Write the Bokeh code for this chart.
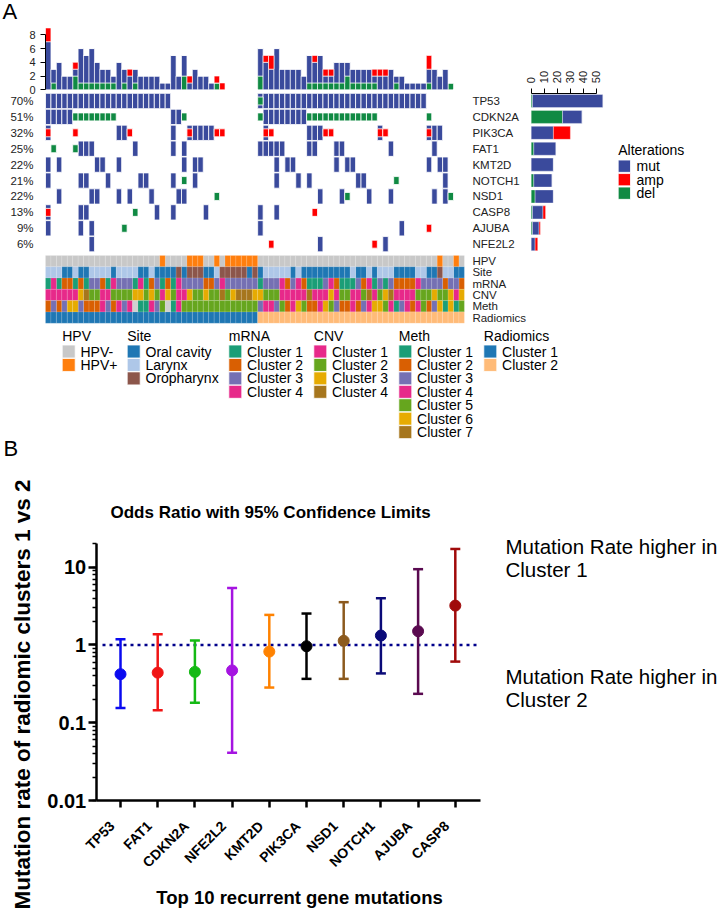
import math
from bokeh.plotting import figure
from bokeh.models import (Range1d, LinearAxis, FixedTicker, ColumnDataSource,
                          CustomJSTickFormatter, LinearScale)
from bokeh.layouts import column
from bokeh.embed import file_html
from bokeh.resources import INLINE
from bokeh.core.properties import value

FONT = "Liberation Sans"

# ---------------- oncoprint data ----------------
GENES = ["TP53", "CDKN2A", "PIK3CA", "FAT1", "KMT2D", "NOTCH1", "NSD1", "CASP8", "AJUBA", "NFE2L2"]
PCT_LABELS = ["70%", "51%", "32%", "25%", "22%", "21%", "22%", "13%", "9%", "6%"]
N1, N2 = 39, 38   # samples in radiomic cluster 1 / cluster 2

# per-sample alteration codes: . none, m mut, a amp, d del, M mut+amp, D mut+del
TP53_ALT   = "mmmmm mmmmm mmmmm mmmmm mmm.. ..... ..... .... | Dmmmm mmmmm mmmmm mmmmm mmmmm mmmmm m.... ..."
CDKN2A_ALT = "mmmmm ddddd ddd.. ..... ...mm d.... ..... .... | dmmmm mmmmd ddddd ddddd dd... ..... .d... ..."
PIK3CA_ALT = "M.... a.... ...mm a.... ...m. .Mmmm maa.. .... | .Ma.. ....m mmaa. ..... ..Ma. ..... .Mmm. ..."
FAT1_ALT   = ".d... dmmm. ..... .m... ...m. m.... ..... .... | mmmmm ....m m...m m.... ....m ..... ..m.. ..."
KMT2D_ALT  = "m.m.. ....m m..m. ..... ..... m.mm. ..... .... | ...m. mm... ....m .mm.. ..... ..... .m.mm ..."
NOTCH1_ALT = "m.... .mm.. .m... ..mm. ...m. d.m.. ..... .... | ...m. ..m.m ..... ...mm ..... d.... ....m ..."
NSD1_ALT   = "..m.. ...mm ...m. m...m ....m m.... .d... .... | ..... ..... .m... md... m...m ..... ..m.m d.."
CASP8_ALT  = "M.... .mm.. ..... .d... m..m. ....m ..... .... | m..m. ..... a.... ..... ..... ..... ..... ..."
AJUBA_ALT  = "m.... .m.m. ....d ..... ..... ..... ..... .... | m.... ..... ..... ..... ..... .m... .a... ..."
NFE2L2_ALT = "..... ...m. ..... ..... ..... ..... ..... .... | ..a.. ..... .m... ..... .a.m. ..... ..... ..."
GENE_ALTS = [TP53_ALT, CDKN2A_ALT, PIK3CA_ALT, FAT1_ALT, KMT2D_ALT,
             NOTCH1_ALT, NSD1_ALT, CASP8_ALT, AJUBA_ALT, NFE2L2_ALT]

ALT_LABELS = ["mut", "amp", "del"]
MUT_C, AMP_C, DEL_C = "#3A4A9C", "#FF0000", "#108A43"
ALT_COLORS = [MUT_C, AMP_C, DEL_C]
COUNT_TICKS = [0, 2, 4, 6, 8]
RB_TICKS = [0, 10, 20, 30, 40, 50]

# ---------------- annotation tracks ----------------
TRACK_NAMES = ["HPV", "Site", "mRNA", "CNV", "Meth", "Radiomics"]
HPV_TRACK   = "11111 11111 11111 11111 12111 12221 12122 2222 | 11111 11111 11111 11111 11111 11111 11121 121"
SITE_TRACK  = "22211 21122 22122 22112 11113 13331 12333 3313 | 12222 21211 11111 11211 21222 11112 21132 211"
MRNA_TRACK  = "14122 12133 21433 31412 31214 33332 23433 3333 | 13334 23421 11342 11132 41313 22224 33332 332"
CNV_TRACK   = "11111 13422 11222 23323 21321 13223 22423 4443 | 32221 11114 11131 22112 41234 11112 22322 313"
METH_TRACK  = "23236 63222 43243 40114 35014 55555 55555 5555 | 34435 24652 24653 22423 46654 13424 52361 615"
RADIO_TRACK = "11111 11111 11111 11111 11111 11111 11111 1111 | 22222 22222 22222 22222 22222 22222 22222 222"

HPV_LEVELS = ["HPV-", "HPV+"]
SITE_LEVELS = ["Oral cavity", "Larynx", "Oropharynx"]
MRNA_LEVELS = ["Cluster 1", "Cluster 2", "Cluster 3", "Cluster 4"]
CNV_LEVELS = ["Cluster 1", "Cluster 2", "Cluster 3", "Cluster 4"]
METH_LEVELS = ["Cluster 1", "Cluster 2", "Cluster 3", "Cluster 4", "Cluster 5", "Cluster 6", "Cluster 7"]
RADIO_LEVELS = ["Cluster 1", "Cluster 2"]

HPV_COLORS = ["#C8C8C8", "#FF7F0E"]
SITE_COLORS = ["#1F77B4", "#AEC7E8", "#8C564B"]
MRNA_COLORS = ["#1B9E77", "#D95F02", "#7570B3", "#E7298A"]
CNV_COLORS = ["#E7298A", "#66A61E", "#E6AB02", "#A6761D"]
METH_COLORS = ["#1B9E77", "#D95F02", "#7570B3", "#E7298A", "#66A61E", "#E6AB02", "#A6761D"]
RADIO_COLORS = ["#1F77B4", "#FFBB78"]
NA_COLOR = "#D0D0D0"

# ---------------- odds ratio data ----------------
OR_GENES = ["TP53", "FAT1", "CDKN2A", "NFE2L2", "KMT2D", "PIK3CA", "NSD1", "NOTCH1", "AJUBA", "CASP8"]
OR_VALUES = [0.42, 0.44, 0.45, 0.47, 0.82, 0.96, 1.13, 1.32, 1.50, 3.20]
OR_LOWER = [0.155, 0.145, 0.18, 0.041, 0.283, 0.366, 0.366, 0.43, 0.235, 0.61]
OR_UPPER = [1.18, 1.37, 1.14, 5.4, 2.43, 2.53, 3.54, 3.98, 9.4, 17.1]
OR_COLORS = ["#0A0AF0", "#F01414", "#14B914", "#A514E1", "#FF8200",
             "#000000", "#8C5A1E", "#0A0A78", "#5A0A50", "#A00A0A"]
REF_LEVEL = 1.0
CHART_TITLE = "Odds Ratio with 95% Confidence Limits"
Y_TITLE = "Mutation rate of radiomic clusters 1 vs 2"
X_TITLE = "Top 10 recurrent gene mutations"
RIGHT_TEXTS = ["Mutation Rate higher in", "Cluster 1", "Mutation Rate higher in", "Cluster 2"]


def expand(track, fill):
    first, second = track.split("|")
    first = first.replace(" ", "")
    second = second.replace(" ", "")
    return (first + fill * N1)[:N1] + (second + fill * N2)[:N2]


NS = N1 + N2
alts = [expand(s, ".") for s in GENE_ALTS]

mut_x, mut_y, amp_x, amp_y, del_x, del_y = [], [], [], [], [], []
col_m, col_a, col_d = [0] * NS, [0] * NS, [0] * NS
row_m, row_a, row_d = [], [], []
for r, s in enumerate(alts):
    m = a = d = 0
    for i, c in enumerate(s):
        if c in "mMD":
            mut_x.append(i + 0.5); mut_y.append(r); col_m[i] += 1; m += 1
        if c in "aM":
            amp_x.append(i + 0.5); amp_y.append(r); col_a[i] += 1; a += 1
        if c in "dD":
            del_x.append(i + 0.5); del_y.append(r); col_d[i] += 1; d += 1
    row_m.append(m); row_a.append(a); row_d.append(d)

# ---------------- layout constants (page pixels) ----------------
PAGE_W, PAGE_H = 720, 919
TOP_H = 464
PX_L, PX_R, PY_T, PY_B = 0, PAGE_W, 0, TOP_H
X0, CW = 45.0, 5.44            # first sample column, column width
ROW_Y0, ROW_H = 100.5, 15.91   # gene row centre, spacing
CNT_Y0, CNT_U = 89.3, 6.875    # top bar baseline, px per alteration
ANN_Y0, ANN_H = 260.64, 11.28  # annotation track centre, height
RB_X0, RB_U = 530.7, 1.306     # right bar baseline, px per alteration

p = figure(width=PAGE_W, height=TOP_H,
           x_range=Range1d((PX_L - X0) / CW, (PX_R - X0) / CW),
           y_range=Range1d((PY_B - ROW_Y0) / ROW_H, (PY_T - ROW_Y0) / ROW_H),
           x_axis_type=None, y_axis_type=None, output_backend="svg",
           toolbar_location=None, min_border=0)
p.outline_line_color = None
p.extra_y_ranges = {
    "cnt": Range1d((CNT_Y0 - PY_B) / CNT_U, (CNT_Y0 - PY_T) / CNT_U),
    "ann": Range1d((PY_B - ANN_Y0) / ANN_H, (PY_T - ANN_Y0) / ANN_H),
    "py": Range1d(PY_B, PY_T),
}
p.extra_x_ranges = {
    "rb": Range1d((PX_L - RB_X0) / RB_U, (PX_R - RB_X0) / RB_U),
    "px": Range1d(PX_L, PX_R),
}

# oncoprint cells
p.rect(x=mut_x, y=mut_y, width=1, height=0.96, fill_color=MUT_C,
       line_color="white", line_width=1, line_alpha=0.8)
p.rect(x=amp_x, y=amp_y, width=1, height=0.5, fill_color=AMP_C,
       line_color="white", line_width=1, line_alpha=0.8)
p.rect(x=del_x, y=del_y, width=1, height=0.5, fill_color=DEL_C,
       line_color="white", line_width=1, line_alpha=0.8)

# top stacked bars
top_src = ColumnDataSource(dict(x=[i + 0.5 for i in range(NS)], d=col_d, m=col_m, a=col_a))
p.vbar_stack(["d", "m", "a"], x="x", width=1, source=top_src,
             fill_color=[DEL_C, MUT_C, AMP_C], line_color="white", line_width=0.8,
             line_alpha=0.8, y_range_name="cnt")

# right stacked bars
rb_src = ColumnDataSource(dict(y=list(range(len(GENES))), d=row_d, m=row_m, a=row_a))
p.hbar_stack(["d", "m", "a"], y="y", height=0.82, source=rb_src,
             fill_color=[DEL_C, MUT_C, AMP_C], line_color="white", line_width=0.6,
             line_alpha=0.6, x_range_name="rb")

# annotation tracks
tracks = [(HPV_TRACK, HPV_COLORS, HPV_LEVELS, "HPV"),
          (SITE_TRACK, SITE_COLORS, SITE_LEVELS, "Site"),
          (MRNA_TRACK, MRNA_COLORS, MRNA_LEVELS, "mRNA"),
          (CNV_TRACK, CNV_COLORS, CNV_LEVELS, "CNV"),
          (METH_TRACK, METH_COLORS, METH_LEVELS, "Meth"),
          (RADIO_TRACK, RADIO_COLORS, RADIO_LEVELS, "Radiomics")]
for t_i, (trk, cols, levels, name) in enumerate(tracks):
    codes = expand(trk, "0")
    for k, colr in enumerate(cols):
        xs = [i + 0.5 for i, c in enumerate(codes) if c == str(k + 1)]
        p.rect(x=xs, y=[t_i] * len(xs), width=1, height=1, fill_color=colr,
               line_color="white", line_alpha=0.25, line_width=0.5, y_range_name="ann")
    xs = [i + 0.5 for i, c in enumerate(codes) if c == "0"]
    if xs:
        p.rect(x=xs, y=[t_i] * len(xs), width=1, height=1, fill_color=NA_COLOR,
               line_color=None, y_range_name="ann")

AX_TXT = "#222222"


def style_axis(ax, size="11px"):
    ax.major_label_text_font = FONT
    ax.major_label_text_font_size = size
    ax.major_label_text_color = AX_TXT
    ax.minor_tick_line_color = None


ax_cnt = LinearAxis(y_range_name="cnt", fixed_location=0, bounds=(0, 8),
                    ticker=FixedTicker(ticks=COUNT_TICKS), major_tick_out=5, major_tick_in=0,
                    major_label_standoff=5, axis_line_color="black", major_tick_line_color="black")
style_axis(ax_cnt)
p.add_layout(ax_cnt, "left")

ax_pct = LinearAxis(fixed_location=0, ticker=FixedTicker(ticks=list(range(len(GENES)))),
                    major_label_overrides={i: s for i, s in enumerate(PCT_LABELS)},
                    axis_line_color=None, major_tick_line_color=None, major_tick_out=0,
                    major_tick_in=0, major_label_standoff=12)
style_axis(ax_pct, "11.5px")
p.add_layout(ax_pct, "left")

ax_gene = LinearAxis(fixed_location=NS, ticker=FixedTicker(ticks=list(range(len(GENES)))),
                     major_label_overrides={i: s for i, s in enumerate(GENES)},
                     axis_line_color=None, major_tick_line_color=None, major_tick_out=0,
                     major_tick_in=0, major_label_standoff=8)
style_axis(ax_gene, "11.5px")
p.add_layout(ax_gene, "right")

ax_ann = LinearAxis(y_range_name="ann", fixed_location=NS,
                    ticker=FixedTicker(ticks=list(range(len(TRACK_NAMES)))),
                    major_label_overrides={i: s for i, s in enumerate(TRACK_NAMES)},
                    axis_line_color=None, major_tick_line_color=None, major_tick_out=0,
                    major_tick_in=0, major_label_standoff=8)
style_axis(ax_ann, "11.5px")
p.add_layout(ax_ann, "right")

ax_rb = LinearAxis(x_range_name="rb", fixed_location=(92.7 - ROW_Y0) / ROW_H, bounds=(0, 50),
                   ticker=FixedTicker(ticks=RB_TICKS), major_label_orientation=math.pi / 2,
                   major_tick_out=5, major_tick_in=0, major_label_standoff=5,
                   axis_line_color="black", major_tick_line_color="black")
style_axis(ax_rb, "11px")
p.add_layout(ax_rb, "above")


def draw_key(title, labels, colors, sq_left, title_y, first_y, step, sq):
    n = len(labels)
    ys = [first_y + step * k for k in range(n)]
    p.text(x=[sq_left], y=[title_y], text=[title], x_range_name="px", y_range_name="py",
           text_font=value(FONT), text_font_size="14px", text_baseline="middle",
           text_color="black")
    p.rect(x=[sq_left + sq / 2] * n, y=ys, width=sq, height=sq, fill_color=colors,
           line_color="white", line_width=0.8, x_range_name="px", y_range_name="py")
    p.text(x=[sq_left + 18.3] * n, y=ys, text=labels, x_range_name="px", y_range_name="py",
           text_font=value(FONT), text_font_size="14px", text_baseline="middle",
           text_color="black")


draw_key("Alterations", ALT_LABELS, ALT_COLORS, 617.7, 149.0, 165.7, 13.5, 12.3)
key_x = [61.7, 126.7, 228.3, 313.3, 398.3, 483.3]
for (trk, cols, levels, name), kx in zip(tracks, key_x):
    draw_key(name, levels, cols, kx, 335.0, 351.0, 13.44, 13.0)

p.text(x=[2.0, 3.0], y=[10.5, 448.0], text=["A", "B"], x_range_name="px", y_range_name="py",
       text_font=value(FONT), text_font_size="22px", text_baseline="middle",
       text_color="black")

# ---------------- odds ratio chart ----------------
BOT_H = PAGE_H - TOP_H
GX0, GDX = 120.0, 37.2                       # first gene centre, spacing (page px)
F_L, F_R, F_T, F_B = 95.7, 480.0, 543.0, 800.0   # plot frame edges (page px)
DEC = 77.8                                   # px per decade
LABEL_SHIFT = 0.23                           # gene labels sit left of their ticks


def xg(px):
    return (px - GX0) / GDX


def ylog(py):
    return 10 ** (-2 - (py - F_B) / DEC)


b = figure(width=PAGE_W, height=BOT_H, x_range=Range1d(xg(0), xg(PAGE_W)),
           y_range=Range1d(ylog(PAGE_H), ylog(TOP_H)), y_axis_type="log",
           output_backend="svg", toolbar_location=None, min_border=0)
b.xgrid.visible = False
b.ygrid.visible = False
b.outline_line_color = None
b.extra_x_ranges = {"px": Range1d(0, PAGE_W)}
b.extra_y_ranges = {"py": Range1d(PAGE_H, TOP_H)}
b.extra_x_scales = {"px": LinearScale()}
b.extra_y_scales = {"py": LinearScale()}

xa = b.xaxis[0]
ya = b.yaxis[0]
xa.fixed_location = 0.01
xa.bounds = (xg(F_L), xg(F_R))
xa.ticker = FixedTicker(ticks=list(range(len(OR_GENES))))
xa.major_label_text_color = None
xa.minor_tick_line_color = None
ya.fixed_location = xg(F_L)
ya.bounds = (0.01, ylog(F_T))

for ax in (xa, ya):
    ax.axis_line_width = 2.5
    ax.axis_line_color = "black"
    ax.major_tick_line_width = 2.5
    ax.major_tick_line_color = "black"
    ax.major_tick_in = 0
    ax.major_label_text_font = FONT
    ax.major_label_text_font_style = "bold"
xa.major_tick_out = 7
ya.major_tick_out = 8
ya.minor_tick_out = 4
ya.minor_tick_in = 0
ya.minor_tick_line_width = 1.5
ya.minor_tick_line_color = "black"
ya.major_label_text_color = "black"
ya.major_label_text_font_size = "20px"
ya.major_label_standoff = 2
ya.formatter = CustomJSTickFormatter(
    code="return tick >= 1 ? tick.toFixed(0) : tick.toPrecision(1);")

# gene name labels (axis without line/ticks, labels set slightly left of the ticks)
lab_ticks = [i - LABEL_SHIFT for i in range(len(OR_GENES))]
xl = LinearAxis(fixed_location=0.01, ticker=FixedTicker(ticks=lab_ticks),
                major_label_overrides={t: g for t, g in zip(lab_ticks, OR_GENES)},
                axis_line_color=None, major_tick_line_color=None, minor_tick_line_color=None,
                major_tick_out=0, major_tick_in=0, major_label_standoff=23,
                major_label_orientation=math.pi / 4, major_label_text_font=FONT,
                major_label_text_font_style="bold", major_label_text_font_size="14px",
                major_label_text_color="black")
b.add_layout(xl, "below")

# null line (odds ratio = 1)
b.segment(x0=[xg(102)], x1=[xg(F_R)], y0=[REF_LEVEL], y1=[REF_LEVEL], line_color="#00008B",
          line_width=2.5, line_dash="3 4")

src = ColumnDataSource(dict(gx=list(range(len(OR_GENES))), orv=OR_VALUES, lo=OR_LOWER,
                            hi=OR_UPPER, c=OR_COLORS))
b.segment(x0="gx", y0="lo", x1="gx", y1="hi", line_color="c", line_width=2.5, source=src)
b.scatter(x="gx", y="hi", marker="dash", size=10, line_color="c", line_width=2.5, source=src)
b.scatter(x="gx", y="lo", marker="dash", size=10, line_color="c", line_width=2.5, source=src)
b.scatter(x="gx", y="orv", marker="circle", size=11, fill_color="c", line_color="c", source=src)

# texts
b.text(x=[110], y=[512], text=[CHART_TITLE], x_range_name="px", y_range_name="py",
       text_font=value(FONT), text_font_size="17px", text_font_style="bold",
       text_baseline="middle", text_color="black")
b.text(x=[22], y=[694], text=[Y_TITLE], angle=math.pi / 2, x_range_name="px", y_range_name="py",
       text_font=value(FONT), text_font_size="22.5px", text_font_style="bold",
       text_align="center", text_baseline="middle", text_color="black")
b.text(x=[299], y=[897], text=[X_TITLE], x_range_name="px", y_range_name="py",
       text_font=value(FONT), text_font_size="18.5px", text_font_style="bold",
       text_align="center", text_baseline="middle", text_color="black")
b.text(x=[505, 505, 505, 505], y=[545.5, 568.5, 675.5, 698.5], text=RIGHT_TEXTS,
       x_range_name="px", y_range_name="py", text_font=value(FONT), text_font_size="20.5px",
       text_baseline="middle", text_color="black")

layout = column(p, b)
open("out.html", "w").write(file_html(layout, INLINE))
